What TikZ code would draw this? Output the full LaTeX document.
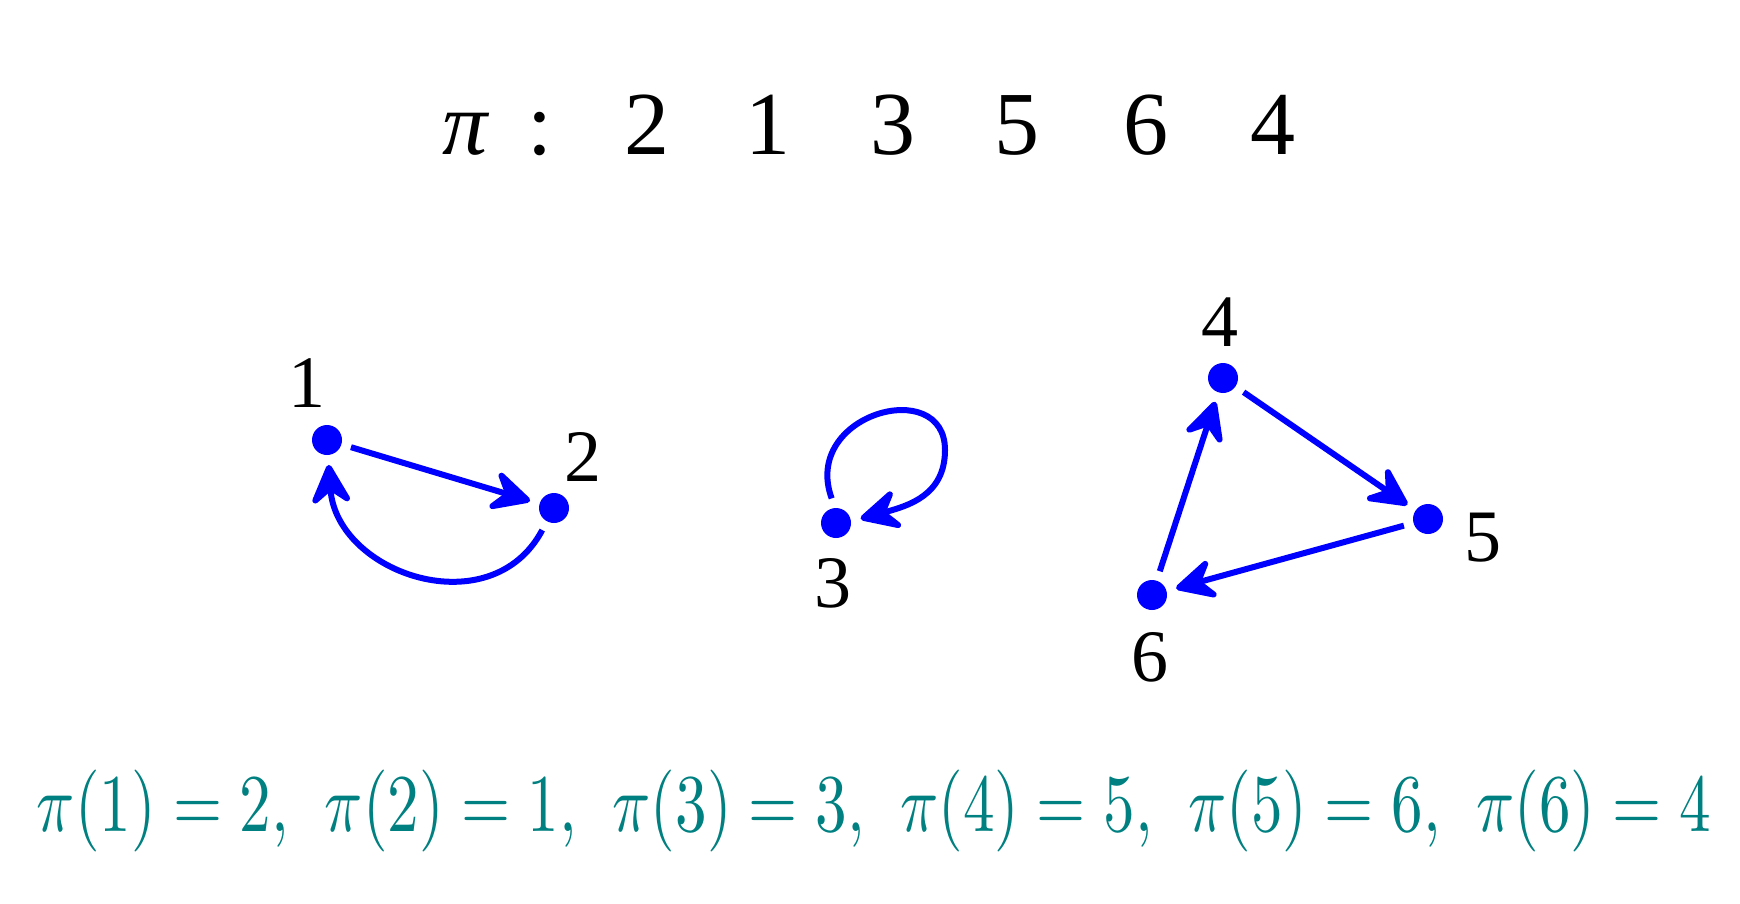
\documentclass[tikz,border=0pt]{standalone}
\usepackage{fontspec}
\setmainfont{Liberation Serif}
\usepackage{graphicx}
\usetikzlibrary{arrows.meta}
\begin{document}
\begin{tikzpicture}[x=0.5pt,y=0.5pt,
  vtx/.style={circle,fill=blue,inner sep=0pt,minimum size=15pt,outer sep=5pt},
  lbl/.style={inner sep=0pt,font=\fontsize{37}{44}\selectfont},
  arr/.style={draw=blue,line width=3pt,-{Stealth[length=24pt,width=24pt,inset=9pt,round]}},
  ttl/.style={inner sep=0pt,anchor=base,font=\fontsize{45}{54}\selectfont}]
\fill[white] (0,0) rectangle (1740,-904);
\useasboundingbox (0,0) rectangle (1740,-904);
% title
\node[ttl] (tpi) at (466,-155) {\textit{π}};
\node[ttl] (tcol) at (540,-155) {:};
\foreach \d/\x [count=\i] in {2/647,1/768,3/893,5/1017,6/1146,4/1273}
  \node[ttl] (t\i) at (\x,-155) {\d};
% vertices
\node[vtx] (v1) at (327,-440) {};
\node[vtx] (v2) at (554,-508) {};
\node[vtx] (v3) at (836,-523) {};
\node[vtx] (v4) at (1223,-378) {};
\node[vtx] (v5) at (1428,-519) {};
\node[vtx] (v6) at (1152,-595) {};
\coordinate (lr) at (945,-450);
% labels
\node[lbl] (l1) at (307,-383) {1};
\node[lbl] (l2) at (583,-457) {2};
\node[lbl] (l3) at (833,-583) {3};
\node[lbl] (l4) at (1220,-322) {4};
\node[lbl] (l5) at (1483,-538) {5};
\node[lbl] (l6) at (1150,-657) {6};
% edges
\draw[arr] (v1) -- (v2);
\draw[arr] (v2) to[out=-118,in=-86,looseness=1.25] (v1);
\draw[arr] (v3.100) .. controls +(110:90) and +(90:75) .. (lr)
                    .. controls +(-90:45) and +(15:50) .. (v3.10);
\draw[arr] (v4) -- (v5);
\draw[arr] (v5) -- (v6);
\draw[arr] (v6) -- (v4);
% bottom line
\node[anchor=base,inner sep=0pt,text=teal] (eq) at (874,-831)
  {\resizebox{837pt}{30.75pt}{$\pi(1)=2,\hspace{0.4em}\pi(2)=1,\hspace{0.4em}\pi(3)=3,\hspace{0.4em}\pi(4)=5,\hspace{0.4em}\pi(5)=6,\hspace{0.4em}\pi(6)=4$}};
\end{tikzpicture}
\end{document}
